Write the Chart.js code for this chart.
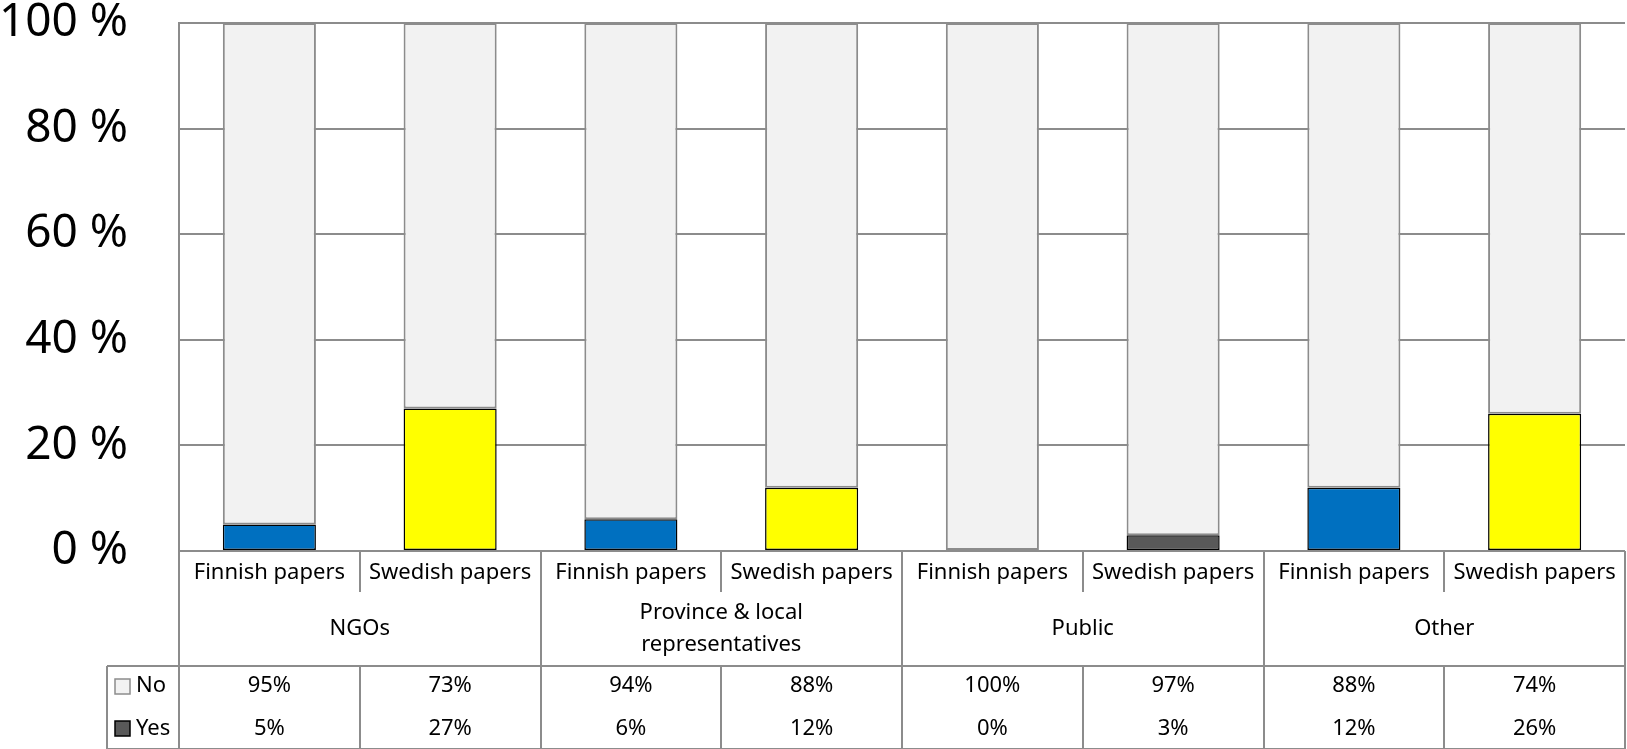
<!DOCTYPE html>
<html>
<head>
<meta charset="utf-8">
<script src="https://cdn.jsdelivr.net/npm/chart.js@4/dist/chart.umd.min.js"></script>
<style>
  html, body { margin: 0; padding: 0; background: #fff; }
  #wrap { width: 1627px; height: 749px; position: relative; }
</style>
</head>
<body>
<div id="wrap"><canvas id="chart" width="1627" height="749"></canvas></div>
<script>
var groups = ['NGOs', ['Province & local', 'representatives'], 'Public', 'Other'];
var papers = ['Finnish papers', 'Swedish papers'];
var noValues = [95, 73, 94, 88, 100, 97, 88, 74];
var yesValues = [5, 27, 6, 12, 0, 3, 12, 26];
var yesColors = ['#0070c0', '#ffff00', '#0070c0', '#ffff00', '#0070c0', '#595959', '#0070c0', '#ffff00'];
var yTicks = [0, 20, 40, 60, 80, 100];

var FONT = '"Noto Sans", "Open Sans", sans-serif';
var LINE = '#8c8c8c';

var labels = [];
groups.forEach(function (g) {
    papers.forEach(function (p) { labels.push(p); });
});

// data table under the plot, drawn from the same arrays
const tablePlugin = {
    id: 'dataTable',
    afterDraw: function (chart) {
        const ctx = chart.ctx;
        const xs = chart.scales.x;
        const area = chart.chartArea;
        const n = labels.length;
        const cw = (area.right - area.left) / n;
        const top = area.bottom;
        const row1 = top + 41;
        const row2 = top + 115;
        const bottom = top + 198;
        const legLeft = 107;

        ctx.save();
        ctx.strokeStyle = LINE;
        ctx.lineWidth = 2;
        ctx.beginPath();
        for (let k = 0; k <= n; k++) {
            const x = Math.round(area.left + k * cw);
            ctx.moveTo(x, top);
            ctx.lineTo(x, k % 2 === 0 ? bottom : row1);
            if (k % 2 === 1) {
                ctx.moveTo(x, row2);
                ctx.lineTo(x, bottom);
            }
        }
        ctx.moveTo(legLeft, row2);
        ctx.lineTo(area.right, row2);
        ctx.moveTo(legLeft, bottom);
        ctx.lineTo(area.right, bottom);
        ctx.moveTo(legLeft, row2);
        ctx.lineTo(legLeft, bottom);
        ctx.stroke();

        ctx.fillStyle = '#000';
        ctx.textAlign = 'center';
        ctx.textBaseline = 'middle';
        ctx.font = '22px ' + FONT;
        labels.forEach(function (l, i) {
            const cx = xs.getPixelForValue(i);
            ctx.fillText(l, cx, top + 22);
            ctx.fillText(noValues[i] + '%', cx, top + 135);
            ctx.fillText(yesValues[i] + '%', cx, top + 178);
        });
        groups.forEach(function (g, j) {
            const cx = area.left + (j * 2 + 1) * cw;
            if (Array.isArray(g)) {
                ctx.fillText(g[0], cx, top + 62);
                ctx.fillText(g[1], cx, top + 94);
            } else {
                ctx.fillText(g, cx, top + 78);
            }
        });

        // legend keys
        ctx.textAlign = 'left';
        ctx.lineWidth = 1.5;
        ctx.fillStyle = '#f2f2f2';
        ctx.strokeStyle = LINE;
        ctx.fillRect(115, top + 128, 15, 15);
        ctx.strokeRect(115, top + 128, 15, 15);
        ctx.fillStyle = '#595959';
        ctx.strokeStyle = '#000';
        ctx.fillRect(115, top + 170, 15, 15);
        ctx.strokeRect(115, top + 170, 15, 15);
        ctx.fillStyle = '#000';
        ctx.fillText('No', 136, top + 135);
        ctx.fillText('Yes', 136, top + 178);
        ctx.restore();
    }
};

const config = {
    type: 'bar',
    data: {
        labels: labels,
        datasets: [
            {
                label: 'Yes',
                data: yesValues,
                backgroundColor: yesColors,
                borderColor: '#000',
                borderWidth: 1.5,
                borderSkipped: false
            },
            {
                label: 'No',
                data: noValues,
                backgroundColor: '#f2f2f2',
                borderColor: LINE,
                borderWidth: 2,
                borderSkipped: false
            }
        ]
    },
    options: {
        responsive: false,
        animation: false,
        layout: { padding: { top: 23, right: 2, left: 0, bottom: 0 } },
        datasets: {
            bar: { categoryPercentage: 1, barPercentage: 0.515 }
        },
        scales: {
            x: {
                stacked: true,
                grid: { display: false },
                border: { display: false },
                ticks: { display: false },
                afterFit: function (s) { s.height = 198; }
            },
            y: {
                stacked: true,
                min: 0,
                max: 100,
                afterBuildTicks: function (s) {
                    s.ticks = yTicks.map(function (v) { return { value: v }; });
                },
                grid: { color: LINE, lineWidth: 2, drawTicks: false },
                border: { display: true, color: LINE, width: 2 },
                ticks: {
                    padding: 51,
                    color: '#000',
                    font: { family: FONT, size: 46 },
                    callback: function (v) { return v + ' %'; }
                },
                afterFit: function (s) {
                    s.width = 179;
                    s.paddingTop = 0;
                    s.paddingBottom = 0;
                }
            }
        },
        plugins: {
            legend: { display: false },
            tooltip: { enabled: false }
        }
    },
    plugins: [tablePlugin]
};

const graphic = new Chart(document.getElementById('chart'), config);
</script>
</body>
</html>
